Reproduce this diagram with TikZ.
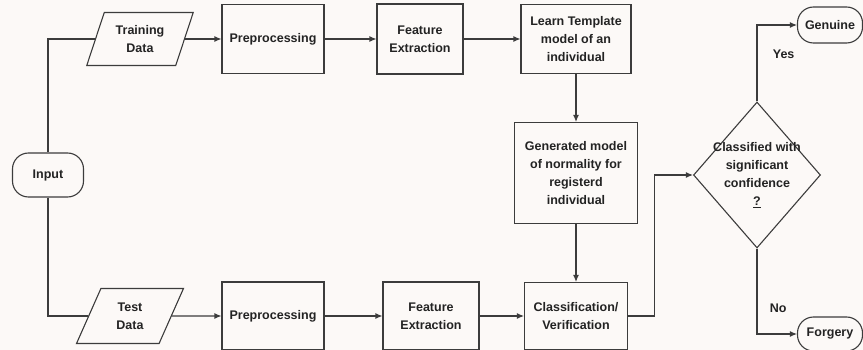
\documentclass[tikz,border=0pt]{standalone}
\usepackage{fontspec}
\setmainfont{Liberation Sans}
\usepackage{tikz}
\usetikzlibrary{shapes.geometric,arrows.meta}
\definecolor{linegray}{RGB}{60,60,60}
\definecolor{inkgray}{RGB}{35,35,35}
\definecolor{paper}{RGB}{252,249,247}

\begin{document}
\begin{tikzpicture}[x=1pt,y=-1pt,
    font=\fontsize{12.5}{18}\selectfont\bfseries, text=inkgray,
    box/.style={rectangle,draw=linegray,line width=1.1pt,align=center,inner sep=2pt},
    io/.style={trapezium,trapezium left angle=67,trapezium right angle=113,
      trapezium stretches=true,draw=linegray,line width=1.1pt,align=center,inner sep=1pt},
    term/.style={rectangle,rounded corners=16pt,draw=linegray,line width=1.1pt,align=center},
    decision/.style={diamond,draw=linegray,line width=1.1pt,inner sep=0pt},
    flow/.style={draw=linegray,line width=1.1pt}]
    \useasboundingbox (0,0) rectangle (863,350);
    \fill[paper] (0,0) rectangle (863,350);

    % input side
    \node[term, minimum width=71pt, minimum height=44pt] (Input) at (48,175) {Input};
    \node[io, minimum width=107pt, minimum height=53pt] (TrainData) at (140,39) {Training\\Data};
    \node[io, minimum width=107pt, minimum height=55pt] (TestData) at (130,316) {Test\\Data};

    % training row
    \node[box, minimum width=102pt, minimum height=69pt] (PreTrain) at (273,39) {Preprocessing};
    \node[box, minimum width=86pt, minimum height=70pt] (FeatTrain) at (420,39) {Feature\\Extraction};
    \node[box, minimum width=110pt, minimum height=69pt] (Learn) at (576,39) {Learn Template\\model of an\\individual};
    \node[box, minimum width=123pt, minimum height=101pt] (Model) at (576,173) {Generated model\\of normality for\\registerd\\individual};

    % test row
    \node[box, minimum width=102pt, minimum height=68pt] (PreTest) at (273,316) {Preprocessing};
    \node[box, minimum width=96pt, minimum height=68pt] (FeatTest) at (431,316) {Feature\\Extraction};
    \node[box, minimum width=103pt, minimum height=67pt] (Classify) at (576,316) {Classification/\\Verification};

    % decision
    \node[decision, minimum width=127pt, minimum height=146pt] (Decide) at (757,175) {};
    \node[align=center] (DecideText) at (Decide) {Classified with\\significant\\confidence\\\underline{?}};
    \node[term, minimum width=65pt, minimum height=36pt] (Genuine) at (830,25) {Genuine};
    \node[term, minimum width=65pt, minimum height=34pt] (Forgery) at (830,334) {Forgery};

    \begin{scope}[>={Latex[length=7pt,width=6pt]},
              every edge/.style={draw=linegray,line width=1.1pt}]
    \draw[flow] (Input.north) |- (TrainData.west);
    \draw[flow] (Input.south) |- (TestData.west);
    \path [->] (TrainData) edge (PreTrain);
    \path [->] (PreTrain) edge (FeatTrain);
    \path [->] (FeatTrain) edge (Learn);
    \path [->] (Learn) edge (Model);
    \path [->] (TestData) edge (PreTest);
    \path [->] (PreTest) edge (FeatTest);
    \path [->] (FeatTest) edge (Classify);
    \path [->] (Model) edge (Classify);
    \draw[flow,->] (Classify.east) -- ++(26,0) |- (Decide.west);
    \draw[flow,->] (Decide.north) |- node[pos=0.31,right=12pt] {Yes} (Genuine.west);
    \draw[flow,->] (Decide.south) |- node[pos=0.35,right=9pt] {No} (Forgery.west);
    \end{scope}
\end{tikzpicture}
\end{document}
